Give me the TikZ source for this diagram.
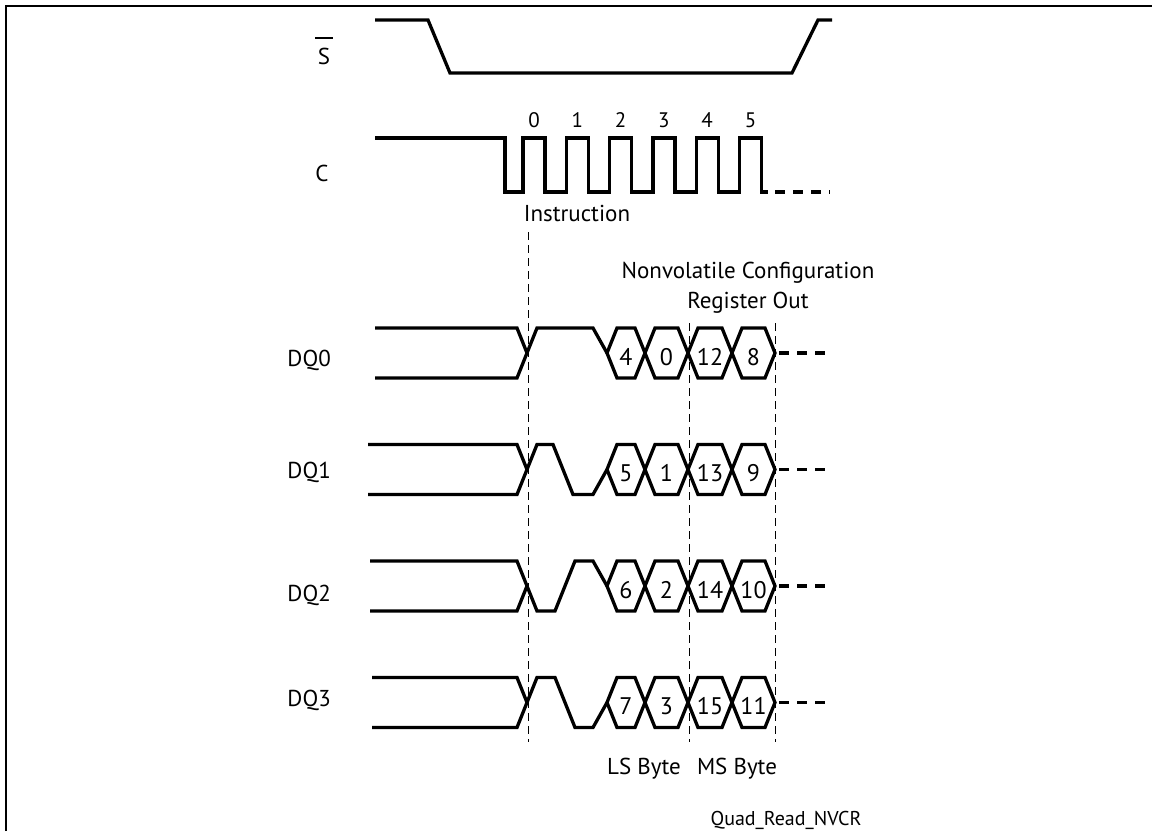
\documentclass[tikz,border=0pt]{standalone}
\usepackage{fontspec}
\setmainfont{PT Sans}
\usetikzlibrary{positioning}

\begin{document}
\begin{tikzpicture}[x=1pt, y=-1pt,
    sig/.style={line width=3.3pt, line join=miter},
    tail/.style={line width=3.3pt, dash pattern=on 10pt off 8pt},
    guide/.style={line width=1pt, dash pattern=on 8pt off 5pt},
    lbl/.style={font=\fontsize{23}{30}\selectfont, inner sep=0pt, anchor=base},
    num/.style={font=\fontsize{24}{28}\selectfont, inner sep=0pt, anchor=base},
    tick/.style={font=\fontsize{21}{24}\selectfont, inner sep=0pt, anchor=base}
]
    \useasboundingbox (0,0) rectangle (1152,831);
    \draw[line width=2pt] (6,831) -- (6,6) -- (1152,6);

    \node[lbl] (sbar) at (324,64) {\vbox{\hrule width 18pt height 1.7pt\kern 9pt\hbox to 18pt{\hss S\hss}}};
    \node[lbl] (clk)  at (322,181) {C};
    \node[lbl, anchor=base east] (dq0) at (331,366) {DQ0};
    \node[lbl, anchor=base east] (dq1) at (331,478) {DQ1};
    \node[lbl, anchor=base east] (dq2) at (331,601) {DQ2};
    \node[lbl, anchor=base east] (dq3) at (331,706) {DQ3};

    \draw[sig] (375,20) -- (428,20) -- (450,73) -- (792,73) -- (818,20) -- (832,20);

    \draw[sig] (375,138) -- (505,138) -- (505,192)
        \foreach \k in {0,...,5} { -- ({523+43.3*\k},192) -- ({523+43.3*\k},138) -- ({545+43.3*\k},138) -- ({545+43.3*\k},192) }
        -- (768,192);
    \draw[tail] (775,192) -- (830,192);
    \foreach \k in {0,...,5}
        \node[tick] (ck\k) at ({534+43.3*\k},127) {\k};

    \node[lbl] (instr) at (577,221) {Instruction};
    \node[lbl, align=center, anchor=center] (nvcr) at (748,288) {Nonvolatile Configuration\\Register Out};

    \draw[guide] (528,232) -- (528,742);
    \draw[guide] (689,323) -- (689,742);
    \draw[guide] (775,323) -- (775,742);

    \draw[sig] (375,328) -- (517,328) -- (527,353);
    \draw[sig] (375,378) -- (517,378) -- (537,328) -- (593,328) -- (607,353);

    \draw[sig] (368,444.5) -- (517,444.5) -- (527,469.5);
    \draw[sig] (368,494.5) -- (517,494.5) -- (537,444.5) -- (553,444.5) -- (573,494.5) -- (593,494.5) -- (607,469.5);

    \draw[sig] (370,611) -- (517,611) -- (527,586);
    \draw[sig] (370,561) -- (517,561) -- (537,611) -- (555,611) -- (575,561) -- (593,561) -- (607,586);

    \draw[sig] (372,677.5) -- (517,677.5) -- (527,702.5);
    \draw[sig] (372,727.5) -- (517,727.5) -- (537,677.5) -- (555,677.5) -- (575,727.5) -- (593,727.5) -- (607,702.5);

    \foreach \m/\na/\nb/\nc/\nd [count=\r from 0] in {353/4/0/12/8, 469.5/5/1/13/9, 586/6/2/14/10, 702.5/7/3/15/11} {
        \foreach \l/\rr/\t [count=\j] in {607/645/\na, 645/688/\nb, 688/732/\nc, 732/775/\nd} {
            \draw[sig] (\l,\m) -- (\l+10,\m-25) -- (\rr-10,\m-25) -- (\rr,\m) -- (\rr-10,\m+25) -- (\l+10,\m+25) -- cycle;
            \node[num] (h\r\j) at ({(\l+\rr)/2},\m+12) {\t};
        }
        \draw[tail] (779,\m) -- (830,\m);
    }

    \node[lbl] (ls) at (644,774) {LS Byte};
    \node[lbl] (ms) at (737,774) {MS Byte};
    \node[lbl, font=\fontsize{20}{24}\selectfont] (fig) at (786,825) {Quad\_Read\_NVCR};
\end{tikzpicture}
\end{document}
